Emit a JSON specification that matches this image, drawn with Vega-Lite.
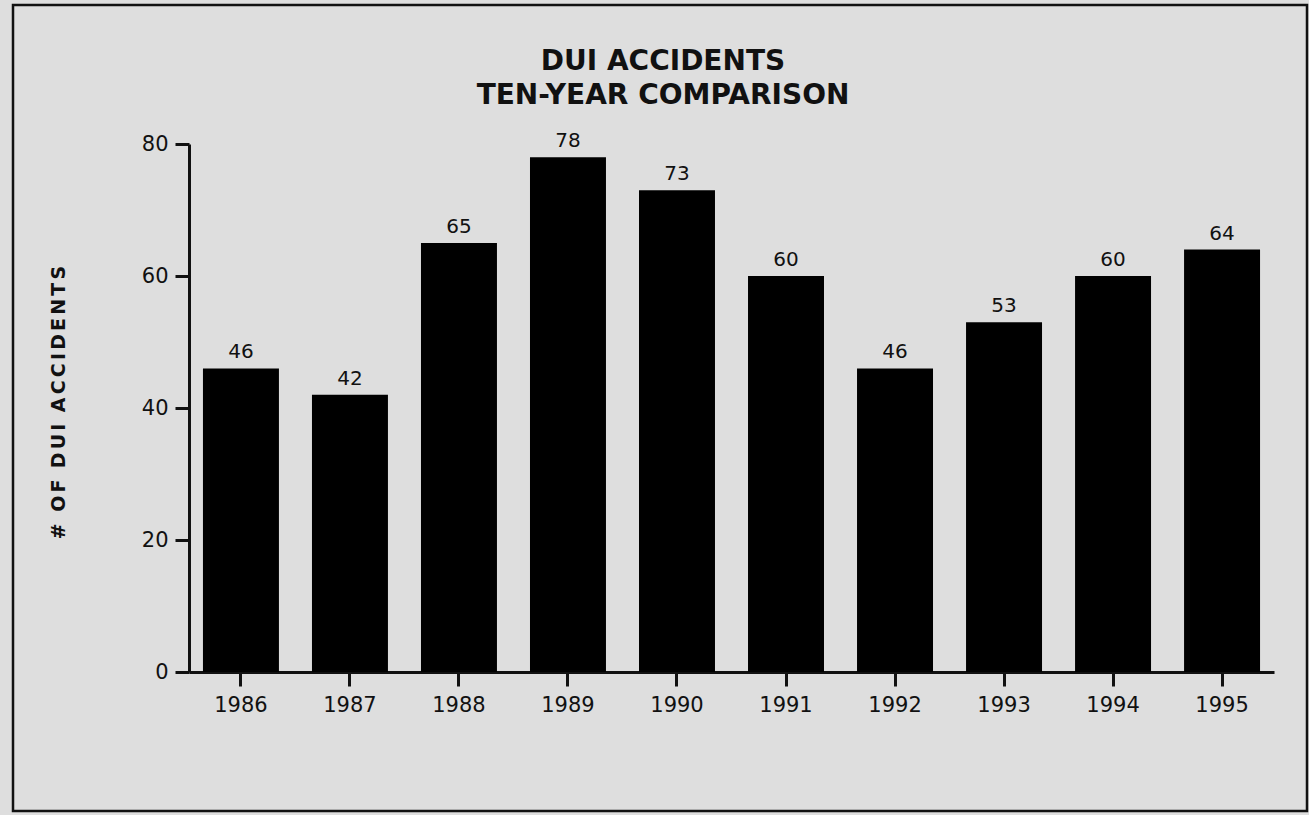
{
  "$schema": "https://vega.github.io/schema/vega-lite/v6.json",
  "width": 1294,
  "height": 806,
  "padding": {"left": 13, "top": 5, "right": 2, "bottom": 4},
  "background": "#dedede",
  "config": {
    "view": {"stroke": "#111111", "strokeWidth": 2.5, "fill": "#dedede"},
    "font": "DejaVu Sans"
  },
  "title": {
    "text": ["DUI ACCIDENTS", "TEN-YEAR COMPARISON"],
    "font": "DejaVu Sans",
    "fontSize": 28,
    "fontWeight": "bold",
    "color": "#111111",
    "anchor": "middle",
    "frame": "group",
    "baseline": "alphabetic",
    "lineHeight": 34,
    "offset": -127,
    "dx": 3
  },
  "data": {
    "values": [
      {"year": "1986", "count": 46},
      {"year": "1987", "count": 42},
      {"year": "1988", "count": 65},
      {"year": "1989", "count": 78},
      {"year": "1990", "count": 73},
      {"year": "1991", "count": 60},
      {"year": "1992", "count": 46},
      {"year": "1993", "count": 53},
      {"year": "1994", "count": 60},
      {"year": "1995", "count": 64}
    ]
  },
  "encoding": {
    "x": {
      "field": "year",
      "type": "ordinal",
      "scale": {"range": [176, 1261], "paddingInner": 0.303, "paddingOuter": 0.128},
      "axis": {
        "title": null,
        "offset": -139,
        "labelAngle": 0,
        "labelFont": "DejaVu Sans",
        "labelFontSize": 21,
        "labelColor": "#111111",
        "labelPadding": 8,
        "domainColor": "#111111",
        "domainWidth": 3,
        "tickColor": "#111111",
        "tickWidth": 3,
        "tickSize": 14,
        "grid": false
      }
    },
    "y": {
      "field": "count",
      "type": "quantitative",
      "scale": {"domain": [0, 80], "range": [667, 139], "nice": false, "zero": true},
      "axis": {
        "title": "# \u2005O\u2006F \u2005D\u2006U\u2006I \u2005A\u2006C\u2006C\u2006I\u2006D\u2006E\u2006N\u2006T\u2006S",
        "titleFont": "DejaVu Sans",
        "titleFontSize": 19,
        "titleFontWeight": "bold",
        "titleColor": "#111111",
        "titleAngle": -90,
        "titleAlign": "center",
        "titleBaseline": "middle",
        "titleX": -131,
        "titleY": 397,
        "offset": -176,
        "values": [0, 20, 40, 60, 80],
        "labelFont": "DejaVu Sans",
        "labelFontSize": 21,
        "labelColor": "#111111",
        "labelPadding": 7,
        "domainColor": "#111111",
        "domainWidth": 3,
        "tickColor": "#111111",
        "tickWidth": 3,
        "tickSize": 14,
        "grid": false
      }
    }
  },
  "layer": [
    {"mark": {"type": "bar", "color": "#000000"}},
    {
      "mark": {
        "type": "text",
        "baseline": "alphabetic",
        "dy": -10,
        "font": "DejaVu Sans",
        "fontSize": 20,
        "color": "#111111"
      },
      "encoding": {"text": {"field": "count", "type": "quantitative"}}
    }
  ]
}
